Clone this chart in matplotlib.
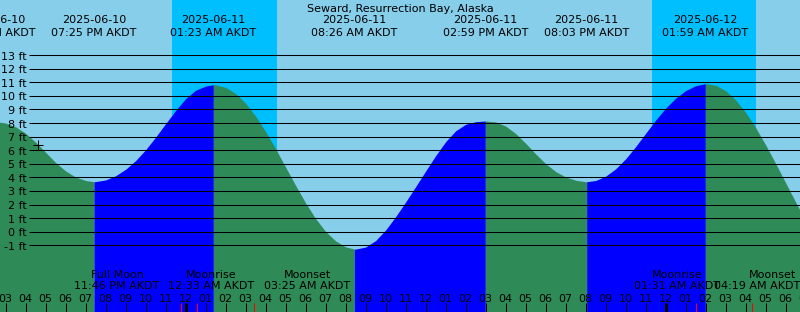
import datetime as dt
import numpy as np
import matplotlib
matplotlib.use("Agg")
import matplotlib.pyplot as plt

station = "Seward, Resurrection Bay, Alaska"
tz = "AKDT"
base = dt.datetime(2025, 6, 10)

# tide height read every 30 minutes, starting 2025-06-10 02:30 PM
reading_start = "2025-06-10 02:30 PM"
tide_ft = [8.10, 8.00, 7.72, 7.24, 6.59, 5.84, 5.09, 4.47, 4.02, 3.77, 3.69,
           3.81, 4.12, 4.60, 5.24, 6.04, 6.97, 7.96, 8.93, 9.80, 10.42, 10.72, 10.81,
           10.63, 10.17, 9.45, 8.50, 7.37, 6.10, 4.75, 3.40, 2.11, 0.96, 0.01,
           -0.68, -1.12, -1.28,
           -1.13, -0.65, 0.13, 1.11, 2.19, 3.32, 4.47, 5.60, 6.63, 7.43, 7.91,
           8.10, 8.15,
           8.08, 7.78, 7.23, 6.51, 5.73, 5.01, 4.43, 4.03, 3.79, 3.68,
           3.77, 4.09, 4.63, 5.37, 6.27, 7.25, 8.22, 9.10, 9.83, 10.39, 10.75, 10.90,
           10.78, 10.38, 9.70, 8.78, 7.66, 6.39, 5.02, 3.60, 2.18, 0.80]

# high / low tides
ext_dates = ["2025-06-10", "2025-06-10", "2025-06-11", "2025-06-11",
             "2025-06-11", "2025-06-11", "2025-06-12"]
ext_times = ["02:22 PM", "07:25 PM", "01:23 AM", "08:26 AM",
             "02:59 PM", "08:03 PM", "01:59 AM"]
ext_ft = [8.10, 3.68, 10.82, -1.28, 8.15, 3.68, 10.90]
ext_kind = ["high", "low", "high", "low", "high", "low", "high"]

# night (sunset -> sunrise)
sunsets = ["2025-06-10 11:19 PM", "2025-06-11 11:20 PM"]
sunrises = ["2025-06-11 04:33 AM", "2025-06-12 04:31 AM"]

# moon
moon_names = ["Full Moon", "Moonrise", "Moonset", "Moonrise", "Moonset"]
moon_dates = ["2025-06-10", "2025-06-11", "2025-06-11", "2025-06-12", "2025-06-12"]
moon_times = ["11:46 PM", "12:33 AM", "03:25 AM", "01:31 AM", "04:19 AM"]

now_time = "2025-06-10 04:36 PM"
now_ft = 6.40

view_start = "2025-06-10 02:43 PM"
view_hours = 40


def hours(s):
    d = dt.datetime.strptime(s, "%Y-%m-%d %I:%M %p")
    return (d - base).total_seconds() / 3600.0


sky = "#87ceeb"
night = "#00bfff"
rising = "#0000ff"
falling = "#2e8b57"

plt.rcParams["font.family"] = ["DejaVu Sans"]
fs = 8

W, H = 800, 312
fig = plt.figure(figsize=(W / 100, H / 100), dpi=100, facecolor=sky)
ax = fig.add_axes([0, 0, 1, 1])
ax.set_facecolor(sky)
ax.axis("off")

t0 = hours(view_start)
pph = W / view_hours
zero_px, ft_px = 231.7, 13.58


def X(px):
    return t0 + px / pph


def Y(py):
    return (zero_px - py) / ft_px


ax.set_xlim(X(0), X(W))
ax.set_ylim(Y(H), Y(0))

# night bands
for ss, sr in zip(sunsets, sunrises):
    ax.axvspan(hours(ss), hours(sr), color=night, lw=0, zorder=1)

# tide curve, coloured by rising / falling
t_read = hours(reading_start) + 0.5 * np.arange(len(tide_ft))
t_ext = np.array([hours(d + " " + t) for d, t in zip(ext_dates, ext_times)])
t_all = np.concatenate([t_read, t_ext])
h_all = np.concatenate([np.array(tide_ft), np.array(ext_ft)])
order = np.argsort(t_all)
t_all, h_all = t_all[order], h_all[order]

for i in range(len(t_ext)):
    a = t_ext[i]
    b = t_ext[i + 1] if i + 1 < len(t_ext) else t_all.max()
    m = (t_all >= a) & (t_all <= b)
    col = rising if ext_kind[i] == "low" else falling
    ax.fill_between(t_all[m], h_all[m], Y(H + 5), color=col, lw=0,
                    antialiased=False, zorder=2)

# foot lines
for f in range(-1, 14):
    ax.plot([X(29), X(W + 5)], [f, f], color="black", lw=0.75, zorder=3,
            solid_capstyle="butt")
    ax.text(X(27), f - 4.5 / ft_px, f"{f} ft", ha="right", va="baseline",
            fontsize=fs, color="black", zorder=5)

# current time marker
ax.plot(hours(now_time), now_ft, marker="+", ms=6.5, mew=0.75,
        color="black", zorder=4)

# hour ticks and labels
for hr in range(int(np.ceil(t0)), int(t0 + view_hours) + 2):
    lw = 2.2 if hr % 24 == 0 else 0.75
    ax.plot([hr, hr], [Y(303), Y(H + 2)], color="black", lw=lw, zorder=4,
            solid_capstyle="butt")
    lab = f"{(hr % 12) or 12:02d}"
    ax.text(hr, Y(302), lab, ha="center", va="baseline", fontsize=fs,
            color="black", zorder=5)

# tide event labels along the top
for t, d, tm in zip(t_ext, ext_dates, ext_times):
    ax.text(t, Y(23.3), d, ha="center", va="baseline", fontsize=fs, zorder=5)
    ax.text(t, Y(36), f"{tm} {tz}", ha="center", va="baseline",
            fontsize=fs, zorder=5)

ax.text(X(W / 2), Y(11.5), station, ha="center", va="baseline",
        fontsize=fs, zorder=5)

# moon events: red ticks and labels
moon_label_px = [117, 211.5, 307.5, 677.5, 772]
fig.canvas.draw()
renderer = fig.canvas.get_renderer()
for name, d, tm, cx in zip(moon_names, moon_dates, moon_times, moon_label_px):
    t = hours(d + " " + tm)
    ax.plot([t, t], [Y(303), Y(H + 2)], color="red", lw=0.75, zorder=4,
            solid_capstyle="butt")
    for txt, py in ((name, 278.3), (f"{tm} {tz}", 289.3)):
        tx = ax.text(X(cx), Y(py), txt, ha="center", va="baseline",
                     fontsize=fs, zorder=5)
        bb = tx.get_window_extent(renderer)
        if bb.x1 > W:
            tx.set_x(X(cx - (bb.x1 - W)))

fig.savefig("out.png", dpi=100, facecolor=sky)
